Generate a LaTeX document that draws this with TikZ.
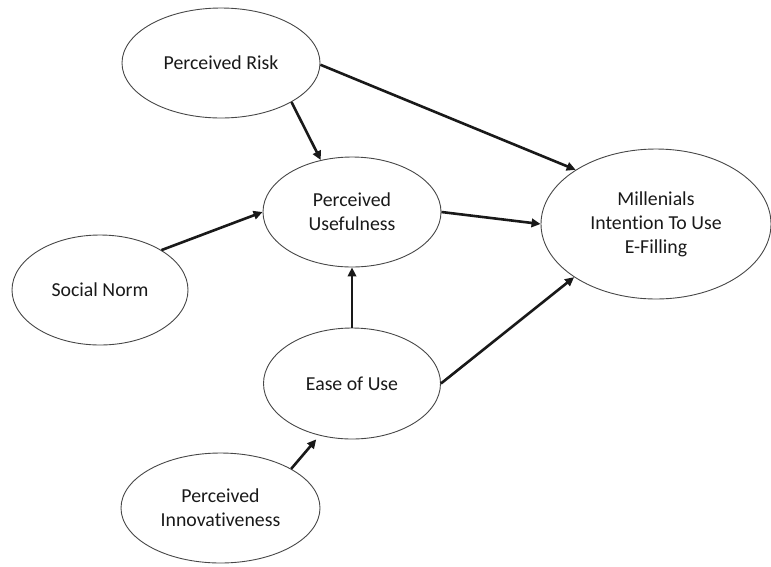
\documentclass[tikz,border=0pt]{standalone}
\usepackage{fontspec}
\setmainfont{Carlito}[RawFeature={-liga;-clig;-dlig;-calt}]
\usetikzlibrary{arrows.meta,shapes.geometric}
\begin{document}
\begin{tikzpicture}[x=1pt,y=-1pt,
  construct/.style={ellipse, draw=black!72, line width=0.9pt, inner sep=0pt,
    align=center, font=\fontsize{19.8}{24}\selectfont, text=black!90},
  link/.style={line width=2.6pt, black!90, -{Triangle[length=9pt,width=8.5pt]}},
]
\useasboundingbox (0,0) rectangle (771,566);

% constructs of the model
\node[construct, minimum width=198pt, minimum height=110pt] (pr) at (221,63) {Perceived Risk};
\node[construct, minimum width=178pt, minimum height=110pt] (pu) at (352,212) {Perceived\\Usefulness};
\node[construct, minimum width=230pt, minimum height=150pt] (mi) at (656,224) {Millenials\\Intention To Use\\E-Filling};
\node[construct, minimum width=176pt, minimum height=110pt] (sn) at (100,290) {Social Norm};
\node[construct, minimum width=177pt, minimum height=111pt] (eu) at (352,383.5) {Ease of Use};
\node[construct, minimum width=199pt, minimum height=110pt] (pi) at (220.5,508) {Perceived\\Innovativeness};

% hypothesised paths
\draw[link] (pr.-1) -- (mi.146.3);
\draw[link] (pr.-29.5) -- (pu.121.6);
\draw[link] (sn.33.6) -- (pu.west);
\draw[link] (pu.east) -- (mi.west);
\draw[link] (eu.north) -- (pu.south);
\draw[link] (eu.east) -- (mi.213.7);
\draw[link, shorten >=5pt] (pi.29.6) -- (eu.238);
\end{tikzpicture}
\end{document}
